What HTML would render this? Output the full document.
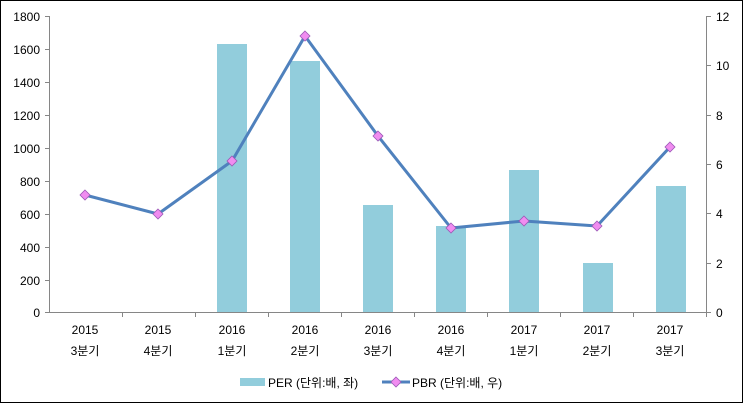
<!DOCTYPE html><html><head><meta charset="utf-8"><style>body{margin:0}svg{display:block}text{font-family:"Liberation Sans","Noto Sans CJK KR",sans-serif;font-size:12px;fill:#000}</style></head><body>
<svg width="743" height="403" viewBox="0 0 743 403">
<rect x="0.5" y="0.5" width="742" height="402" fill="#fff" stroke="#000"/>
<g fill="#92CDDC">
<rect x="217" y="44" width="30" height="268"/>
<rect x="290" y="61" width="30" height="251"/>
<rect x="363" y="205" width="30" height="107"/>
<rect x="436" y="226" width="30" height="86"/>
<rect x="509" y="170" width="30" height="142"/>
<rect x="583" y="263" width="30" height="49"/>
<rect x="656" y="186" width="30" height="126"/>
</g>
<g stroke="#868686" stroke-width="1" fill="none">
<path d="M49.5 16V312.5H706.5V16"/>
<path d="M45 16.5h5M45 49.5h5M45 82.5h5M45 115.5h5M45 148.5h5M45 181.5h5M45 214.5h5M45 247.5h5M45 280.5h5M45 312.5h5"/>
<path d="M706 16.5h5M706 65.5h5M706 115.5h5M706 164.5h5M706 213.5h5M706 263.5h5M706 312.5h5"/>
<path d="M122.5 312v5M195.5 312v5M268.5 312v5M341.5 312v5M414.5 312v5M487.5 312v5M560.5 312v5M633.5 312v5M706.5 312v5"/>
</g>
<g text-anchor="end">
<text x="40" y="21">1800</text><text x="40" y="54">1600</text><text x="40" y="87">1400</text><text x="40" y="120">1200</text><text x="40" y="153">1000</text><text x="40" y="186">800</text><text x="40" y="219">600</text><text x="40" y="252">400</text><text x="40" y="285">200</text><text x="40" y="317">0</text>
</g>
<g>
<text x="716" y="21">12</text><text x="716" y="70">10</text><text x="716" y="120">8</text><text x="716" y="169">6</text><text x="716" y="218">4</text><text x="716" y="268">2</text><text x="716" y="317">0</text>
</g>
<g text-anchor="middle">
<text x="85" y="334">2015</text><text x="85" y="355">3분기</text>
<text x="158" y="334">2015</text><text x="158" y="355">4분기</text>
<text x="232" y="334">2016</text><text x="232" y="355">1분기</text>
<text x="305" y="334">2016</text><text x="305" y="355">2분기</text>
<text x="378" y="334">2016</text><text x="378" y="355">3분기</text>
<text x="451" y="334">2016</text><text x="451" y="355">4분기</text>
<text x="524" y="334">2017</text><text x="524" y="355">1분기</text>
<text x="597" y="334">2017</text><text x="597" y="355">2분기</text>
<text x="670" y="334">2017</text><text x="670" y="355">3분기</text>
</g>
<polyline points="85,195 158,214 232,161 305,36 378,136 451,228 524,221 597,226 670,147" fill="none" stroke="#4F81BD" stroke-width="3" stroke-linejoin="round"/>
<g fill="#F08CF0" stroke="#9B59B6" stroke-width="0.8">
<path d="M85 190l5 5-5 5-5-5z"/><path d="M158 209l5 5-5 5-5-5z"/><path d="M232 156l5 5-5 5-5-5z"/><path d="M305 31l5 5-5 5-5-5z"/><path d="M378 131l5 5-5 5-5-5z"/><path d="M451 223l5 5-5 5-5-5z"/><path d="M524 216l5 5-5 5-5-5z"/><path d="M597 221l5 5-5 5-5-5z"/><path d="M670 142l5 5-5 5-5-5z"/>
</g>
<rect x="240" y="378" width="25" height="8" fill="#92CDDC"/>
<text x="268" y="387">PER (단위:배, 좌)</text>
<line x1="382" y1="382" x2="410" y2="382" stroke="#4F81BD" stroke-width="3"/>
<path d="M396 377l5 5-5 5-5-5z" fill="#F08CF0" stroke="#9B59B6" stroke-width="0.8"/>
<text x="412" y="387">PBR (단위:배, 우)</text>
</svg></body></html>
